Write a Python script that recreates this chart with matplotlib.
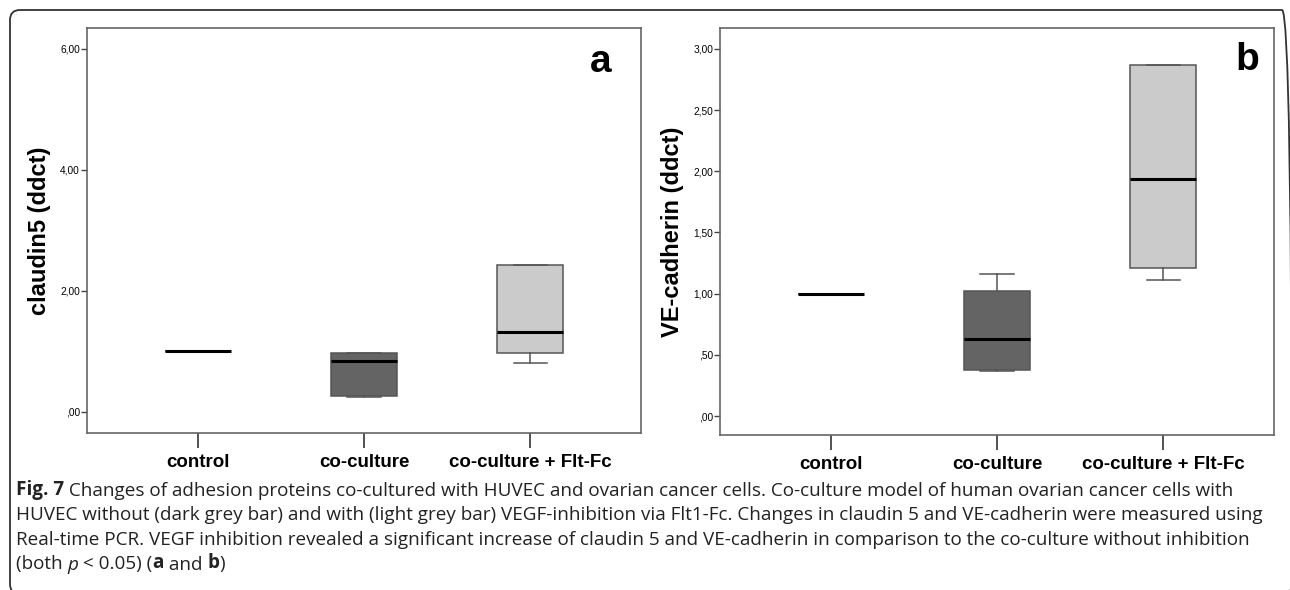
import matplotlib
matplotlib.use('Agg')
import matplotlib.pyplot as plt
from matplotlib.patches import FancyBboxPatch
from matplotlib.transforms import IdentityTransform

groups = ['control', 'co-culture', 'co-culture + Flt-Fc']

# panel a: claudin5 (ddct)
claudin_whislo = [1.00, 0.25, 0.81]
claudin_q1 = [1.00, 0.26, 0.97]
claudin_med = [1.00, 0.84, 1.32]
claudin_q3 = [1.00, 0.97, 2.43]
claudin_whishi = [1.00, 0.97, 2.43]
claudin_ticks = [0, 2, 4, 6]
claudin_ticklabels = [',00', '2,00', '4,00', '6,00']

# panel b: VE-cadherin (ddct)
ve_whislo = [1.00, 0.37, 1.11]
ve_q1 = [1.00, 0.38, 1.21]
ve_med = [1.00, 0.63, 1.94]
ve_q3 = [1.00, 1.02, 2.87]
ve_whishi = [1.00, 1.16, 2.87]
ve_ticks = [0, 0.5, 1, 1.5, 2, 2.5, 3]
ve_ticklabels = [',00', ',50', '1,00', '1,50', '2,00', '2,50', '3,00']

box_colors = ['#cbcbcb', '#646464', '#cbcbcb']

caption_lines = [
    [('Fig. 7', 'bold', 'normal'),
     (' Changes of adhesion proteins co-cultured with HUVEC and ovarian cancer cells. '
      'Co-culture model of human ovarian cancer cells with', 'normal', 'normal')],
    [('HUVEC without (dark grey bar) and with (light grey bar) VEGF-inhibition via Flt1-Fc. '
      'Changes in claudin 5 and VE-cadherin were measured using', 'normal', 'normal')],
    [('Real-time PCR. VEGF inhibition revealed a significant increase of claudin 5 and '
      'VE-cadherin in comparison to the co-culture without inhibition', 'normal', 'normal')],
    [('(both ', 'normal', 'normal'), ('p', 'normal', 'italic'),
     (' < 0.05) (', 'normal', 'normal'), ('a', 'bold', 'normal'),
     (' and ', 'normal', 'normal'), ('b', 'bold', 'normal'), (')', 'normal', 'normal')],
]

plt.rcParams['font.family'] = ['Liberation Sans', 'DejaVu Sans']

W, H = 1290, 590
fig = plt.figure(figsize=(W / 100, H / 100), dpi=100)


def px_axes(left, top, right, bottom):
    return fig.add_axes([left / W, 1 - bottom / H, (right - left) / W, (bottom - top) / H])


def draw_panel(ax, whislo, q1, med, q3, whishi, ticks, ticklabels, ylim, ylabel, letter):
    stats = []
    for i in range(len(groups)):
        stats.append(dict(whislo=whislo[i], q1=q1[i], med=med[i], q3=q3[i],
                          whishi=whishi[i], fliers=[], label=groups[i]))
    bp = ax.bxp(stats, positions=[1, 2, 3], widths=0.4, capwidths=0.2,
                patch_artist=True, showfliers=False,
                boxprops=dict(edgecolor='#555555', linewidth=1.1),
                medianprops=dict(color='black', linewidth=2.2),
                whiskerprops=dict(color='#555555', linewidth=1.1),
                capprops=dict(color='#555555', linewidth=1.1))
    for patch, c in zip(bp['boxes'], box_colors):
        patch.set_facecolor(c)
    ax.set_xlim(1 / 3, 11 / 3)
    ax.set_ylim(*ylim)
    ax.set_yticks(ticks)
    ax.set_yticklabels(ticklabels)
    ax.set_xticks([1, 2, 3])
    ax.set_xticklabels(groups, fontsize=13.5, fontweight='bold')
    ax.tick_params(axis='x', length=11, width=1.3, color='#444444', pad=4)
    ax.tick_params(axis='y', length=4, width=1, color='#444444', pad=1, labelsize=7.3)
    for sp in ax.spines.values():
        sp.set_color('#666666')
        sp.set_linewidth(1.2)
    ax.set_ylabel(ylabel, fontsize=17, fontweight='bold', va='center')
    ax.yaxis.set_label_coords(-0.085, 0.5)
    ax.text(letter[1], letter[2], letter[0], transform=ax.transAxes, fontsize=28,
            fontweight='bold', ha='center', va='baseline')


ax_a = px_axes(87, 28, 641, 433)
draw_panel(ax_a, claudin_whislo, claudin_q1, claudin_med, claudin_q3, claudin_whishi,
           claudin_ticks, claudin_ticklabels, (-0.35, 6.34), 'claudin5 (ddct)', ('a', 0.928, 0.891))

ax_b = px_axes(720, 28, 1274, 435)
draw_panel(ax_b, ve_whislo, ve_q1, ve_med, ve_q3, ve_whishi,
           ve_ticks, ve_ticklabels, (-0.155, 3.17), 'VE-cadherin (ddct)', ('b', 0.951, 0.897))

# rounded frame around the figure
frame = FancyBboxPatch((10, -4), 1282, 584, boxstyle='round,pad=0,rounding_size=10',
                       transform=IdentityTransform(), facecolor='none',
                       edgecolor='#333333', linewidth=1.3)
fig.patches.append(frame)

# caption, segments chained left to right
cap_font = ['Open Sans', 'DejaVu Sans']
cap_size = 13.6
line_bottom = [500, 524.5, 549, 573.5]
for y, segs in zip(line_bottom, caption_lines):
    prev = None
    for txt, weight, style in segs:
        kw = dict(fontsize=cap_size, family=cap_font, fontweight=weight,
                  fontstyle=style, color='#222222', ha='left', va='bottom')
        if prev is None:
            prev = fig.text(16 / W, 1 - y / H, txt, **kw)
        else:
            prev = ax_a.annotate(txt, xy=(1, 0), xycoords=prev,
                                 annotation_clip=False, **kw)

fig.savefig('out.png', dpi=100)
